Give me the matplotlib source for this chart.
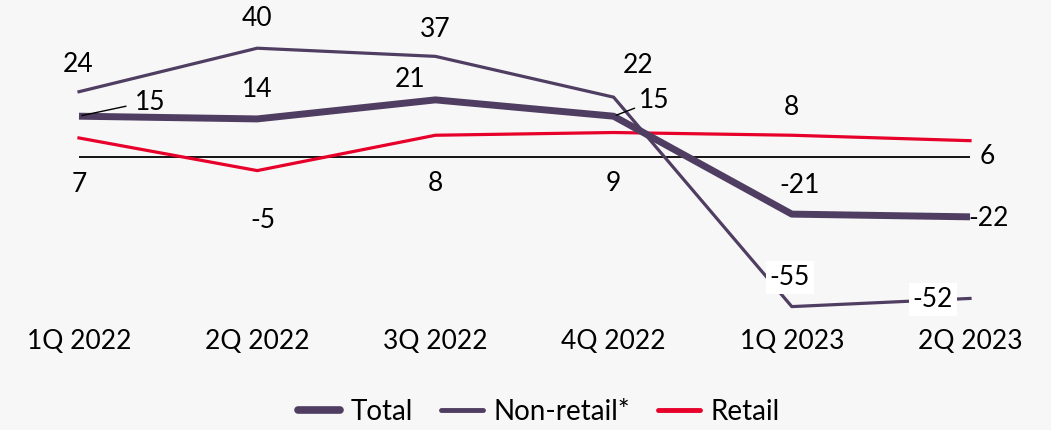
import matplotlib
matplotlib.use("Agg")
import matplotlib.pyplot as plt

# ---------------------------------------------------------------------------
# Data
# ---------------------------------------------------------------------------
quarters = ["1Q 2022", "2Q 2022", "3Q 2022", "4Q 2022", "1Q 2023", "2Q 2023"]
total = [15, 14, 21, 15, -21, -22]
non_retail = [24, 40, 37, 22, -55, -52]
retail = [7, -5, 8, 9, 8, 6]

# label offsets from each point, in pixels (dx right, dy up)
total_off = [(71, 14), (0, 29), (-25, 20), (41, 16), (8, 29), (19, -2)]
non_retail_off = [(-1, 27), (0, 30), (0, 27), (25, 32), (-2, 29), (-37, -1)]
retail_off = [(0, -47), (6, -50), (0, -48), (0, -51), (0, 28), (17, -16)]

PURPLE = "#503e62"
RED = "#e6002a"
BG = "#f7f7f7"

plt.rcParams["font.family"] = ["Lato", "DejaVu Sans"]
FS = 19

W, H = 1051, 430
fig = plt.figure(figsize=(W / 100, H / 100), dpi=100, facecolor=BG)

# axes placed in pixel terms: x index 0 -> 79px, index 5 -> 970px; zero at 157px from top
ax_bottom_px = 318
ax = fig.add_axes([0, 1 - ax_bottom_px / H, 1, ax_bottom_px / H], facecolor=BG)
px_per_idx = (970 - 79) / 5
px_per_unit = 2.72
ax.set_xlim(-79 / px_per_idx, 5 + (W - 970) / px_per_idx)
ax.set_ylim(-(ax_bottom_px - 157) / px_per_unit, 157 / px_per_unit)

x = list(range(len(quarters)))
ax.hlines(0, 0, 5, color="black", lw=1.3, zorder=1)
ax.plot(x, retail, color=RED, lw=2.3, label="Retail", zorder=2)
ax.plot(x, non_retail, color=PURPLE, lw=2.3, label="Non-retail*", zorder=3)
ax.plot(x, total, color=PURPLE, lw=5, label="Total", zorder=4, solid_capstyle="butt")

k = 0.72  # px -> pt


def put_labels(values, offsets, boxed=()):
    for i, (v, (dx, dy)) in enumerate(zip(values, offsets)):
        bbox = None
        if i in boxed:
            bbox = dict(boxstyle="square,pad=0.15", fc="white", ec="none")
        ax.annotate(
            f"{v}",
            (i, v),
            textcoords="offset points",
            xytext=(dx * k, dy * k),
            ha="center",
            va="center",
            fontsize=FS,
            color="black",
            bbox=bbox,
            zorder=6,
        )


put_labels(total, total_off)
put_labels(non_retail, non_retail_off, boxed=(4, 5))
put_labels(retail, retail_off)

# leader lines for the two Total "15" labels
for i, (ex, ey) in [(0, (47, 10)), (3, (21, 8))]:
    ax.annotate(
        "",
        (i, total[i]),
        textcoords="offset points",
        xytext=(ex * k, ey * k),
        arrowprops=dict(arrowstyle="-", color="black", lw=1, shrinkA=0, shrinkB=2),
        zorder=5,
    )

ax.set_xticks(x)
ax.set_xticklabels(quarters, fontsize=FS)
ax.tick_params(axis="x", length=0, pad=8)
ax.set_yticks([])
for s in ax.spines.values():
    s.set_visible(False)

handles, labels = ax.get_legend_handles_labels()
order = [2, 1, 0]
leg = fig.legend(
    [handles[i] for i in order],
    [labels[i] for i in order],
    loc="center",
    bbox_to_anchor=(0.513, 1 - 412 / H),
    ncol=3,
    frameon=False,
    fontsize=20,
    handlelength=1.5,
    handletextpad=0.4,
    columnspacing=1.0,
)
for line, lw in zip(leg.get_lines(), [5.5, 3.5, 3.5]):
    line.set_linewidth(lw)
    line.set_solid_capstyle("round")

fig.savefig("out.png", dpi=100, facecolor=BG)
